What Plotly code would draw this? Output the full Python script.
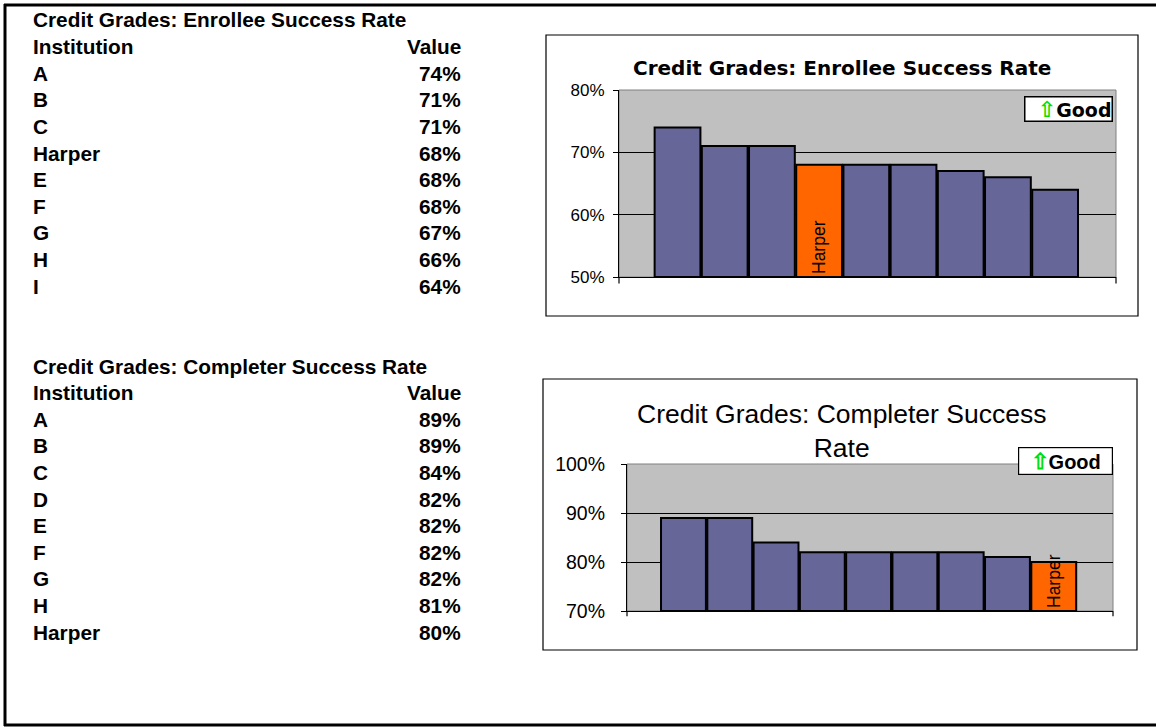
import plotly.graph_objects as go

W, H = 1156, 727

# ---- data ----
title1 = "Credit Grades: Enrollee Success Rate"
inst1 = ["A", "B", "C", "Harper", "E", "F", "G", "H", "I"]
vals1 = [74, 71, 71, 68, 68, 68, 67, 66, 64]

title2 = "Credit Grades: Completer Success Rate"
inst2 = ["A", "B", "C", "D", "E", "F", "G", "H", "Harper"]
vals2 = [89, 89, 84, 82, 82, 82, 82, 81, 80]

ticks1 = [50, 60, 70, 80]
ticks2 = [70, 80, 90, 100]

HIGHLIGHT = "Harper"
C_BAR = "#666699"
C_HL = "#FF6600"
FONT = "Liberation Sans, Arial, sans-serif"
DJ = "DejaVu Sans, Verdana, sans-serif"


def px(x):
    return x / W


def py(y):
    return 1 - y / H


fig = go.Figure()


def add_bars(names, vals, ymin, xa, ya, lblsize):
    fig.add_trace(go.Bar(
        x=names,
        y=[v - ymin for v in vals],
        base=ymin,
        xaxis=xa, yaxis=ya,
        marker=dict(color=[C_HL if n == HIGHLIGHT else C_BAR for n in names],
                    line=dict(color="black", width=2)),
        text=[n if n == HIGHLIGHT else "" for n in names],
        textposition="inside",
        insidetextanchor="start",
        textangle=-90,
        constraintext="none",
        textfont=dict(family=FONT, size=lblsize, color="black"),
        showlegend=False,
        hoverinfo="skip",
    ))


add_bars(inst1, vals1, ticks1[0], "x", "y", 17.5)
add_bars(inst2, vals2, ticks2[0], "x2", "y2", 17.5)

common_x = dict(type="category", showticklabels=False, showgrid=False,
                showline=True, linecolor="black", linewidth=1.2, automargin=False,
                ticks="", zeroline=False, fixedrange=True)

fig.update_layout(
    width=W, height=H,
    margin=dict(l=0, r=0, t=0, b=0, pad=0, autoexpand=False),
    paper_bgcolor="white",
    plot_bgcolor="#C0C0C0",
    bargap=0.03,
    xaxis=dict(domain=[px(619), px(1116)], range=[-1.24, 9.29], anchor="y", **common_x),
    yaxis=dict(domain=[py(277), py(90)], range=[ticks1[0], ticks1[-1]], anchor="x",
               tickvals=ticks1, ticktext=[f"{t}%" for t in ticks1], automargin=False,
               showgrid=True, gridcolor="black", gridwidth=1,
               showline=True, linecolor="black", linewidth=1.2,
               ticks="outside", ticklen=5, tickcolor="black", ticklabelstandoff=5,
               tickfont=dict(family=FONT, size=17, color="black"),
               zeroline=False, fixedrange=True),
    xaxis2=dict(domain=[px(627), px(1113)], range=[-1.22, 9.28], anchor="y2", **common_x),
    yaxis2=dict(domain=[py(611), py(464)], range=[ticks2[0], ticks2[-1]], anchor="x2",
                tickvals=ticks2, ticktext=[f"{t}%" for t in ticks2], automargin=False,
                showgrid=True, gridcolor="black", gridwidth=1,
                showline=True, linecolor="black", linewidth=1.2,
                ticks="outside", ticklen=5, tickcolor="black", ticklabelstandoff=12,
                tickfont=dict(family=FONT, size=19.5, color="black"),
                zeroline=False, fixedrange=True),
)

shapes = []
# outer page frame
shapes.append(dict(type="line", xref="paper", yref="paper", x0=px(5), x1=px(5), y0=py(4), y1=py(726),
                   line=dict(color="black", width=3)))
shapes.append(dict(type="line", xref="paper", yref="paper", x0=px(4), x1=1, y0=py(5), y1=py(5),
                   line=dict(color="black", width=3)))
shapes.append(dict(type="line", xref="paper", yref="paper", x0=px(4), x1=1, y0=py(725), y1=py(725),
                   line=dict(color="black", width=3)))
# chart frames
shapes.append(dict(type="rect", xref="paper", yref="paper", x0=px(546), x1=px(1138), y0=py(316), y1=py(35),
                   line=dict(color="black", width=1.2)))
shapes.append(dict(type="rect", xref="paper", yref="paper", x0=px(543), x1=px(1137), y0=py(650), y1=py(379),
                   line=dict(color="black", width=1.2)))
# plot-area grey border + end ticks on category axis
for xa, ya in (("x", "y"), ("x2", "y2")):
    shapes.append(dict(type="rect", xref=f"{xa} domain", yref=f"{ya} domain", x0=0, x1=1, y0=0, y1=1,
                       line=dict(color="#808080", width=1), layer="below"))
    for xx in (0, 1):
        shapes.append(dict(type="line", xref=f"{xa} domain", yref=f"{ya} domain", x0=xx, x1=xx,
                           y0=0, y1=-0.035, line=dict(color="black", width=1.2)))
fig.update_layout(shapes=shapes)

ann = []
# chart titles
ann.append(dict(text=title1, x=px(842), y=py(68), xref="paper", yref="paper", showarrow=False,
                xanchor="center", yanchor="middle",
                font=dict(family=DJ, size=20, color="black", weight="bold")))
ann.append(dict(text="Credit Grades: Completer Success<br>Rate", x=px(842), y=py(431), xref="paper", yref="paper",
                showarrow=False, xanchor="center", yanchor="middle",
                font=dict(family=FONT, size=26.5, color="black")))
# "Good" boxes
good = '<span style="color:#00E000;font-weight:bold;font-size:22px">⇧</span><b>Good</b>'
ann.append(dict(text=good, x=px(1068.5), y=py(108.5), xref="paper", yref="paper", showarrow=False,
                xanchor="center", yanchor="middle", width=86, height=23, align="right",
                bgcolor="white", bordercolor="black", borderwidth=1.5, borderpad=0,
                font=dict(family=DJ, size=19, color="black")))
ann.append(dict(text=good, x=px(1065.5), y=py(461), xref="paper", yref="paper", showarrow=False,
                xanchor="center", yanchor="middle", width=93, height=26, align="center",
                bgcolor="white", bordercolor="black", borderwidth=1.2, borderpad=0,
                font=dict(family=FONT, size=20, color="black")))


def table(title, names, vals, y0):
    step = 26.6
    tf = dict(family=FONT, size=20.8, color="black", weight="bold")
    ann.append(dict(text=title, x=px(31), y=py(y0), xref="paper", yref="paper", showarrow=False,
                    xanchor="left", yanchor="middle", font=tf))
    ann.append(dict(text="Institution", x=px(31), y=py(y0 + step), xref="paper", yref="paper",
                    showarrow=False, xanchor="left", yanchor="middle", font=tf))
    ann.append(dict(text="Value", x=px(463), y=py(y0 + step), xref="paper", yref="paper",
                    showarrow=False, xanchor="right", yanchor="middle", font=tf))
    for i, (n, v) in enumerate(zip(names, vals)):
        yy = y0 + step * (i + 2)
        ann.append(dict(text=n, x=px(31), y=py(yy), xref="paper", yref="paper",
                        showarrow=False, xanchor="left", yanchor="middle", font=tf))
        ann.append(dict(text=f"{v}%", x=px(463), y=py(yy), xref="paper", yref="paper",
                        showarrow=False, xanchor="right", yanchor="middle", font=tf))


table(title1, inst1, vals1, 20)
table(title2, inst2, vals2, 366)

fig.update_layout(annotations=ann)

post = ("document.documentElement.style.margin='0';document.documentElement.style.padding='0';"
        "document.body.style.margin='0';document.body.style.padding='0';document.body.style.overflow='hidden';"
        "var d=document.getElementById('{plot_id}');d.style.position='fixed';d.style.left='0px';d.style.top='0px';")
fig.write_html("out.html", config={"displayModeBar": False}, post_script=post)
